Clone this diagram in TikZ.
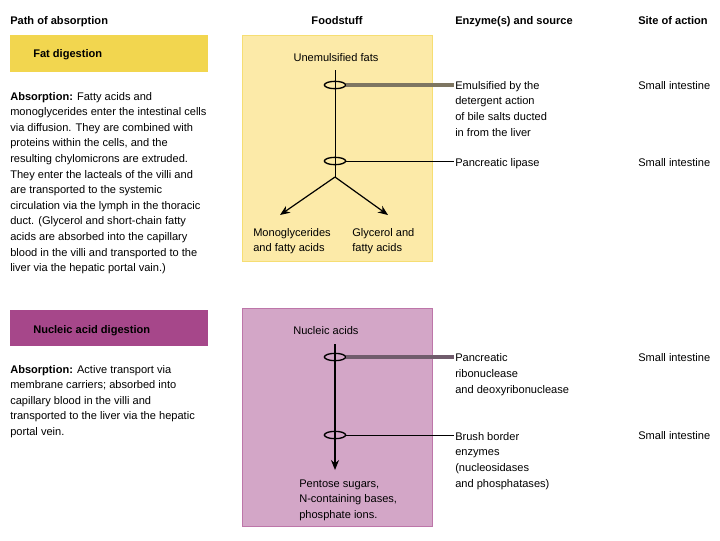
\documentclass[tikz,border=0pt]{standalone}
\usepackage{fontspec}
\setmainfont{Liberation Sans}
\usetikzlibrary{arrows.meta,shapes.geometric,positioning}

\definecolor{fatband}{HTML}{F2D64F}
\definecolor{fatbox}{HTML}{FCEAA8}
\definecolor{nucband}{HTML}{A6478A}
\definecolor{nucbox}{HTML}{D3A6C7}
\definecolor{fatlead}{HTML}{7E7662}
\definecolor{nuclead}{HTML}{705C6C}
\newcommand{\txtsize}{\fontsize{8.3}{11.7}\selectfont}

\begin{document}
\begin{tikzpicture}[x=0.75pt, y=-0.75pt,
    hdr/.style={font=\txtsize\bfseries, inner sep=0pt, anchor=base west},
    txt/.style={font=\txtsize, align=left, inner sep=0pt, anchor=base west},
    ring/.style={draw, ellipse, line width=1pt, inner sep=0pt, minimum width=16pt, minimum height=5.5pt},
    arr/.style={-{Stealth[length=7.5pt, width=6pt]}, line width=0.9pt},
    heavy/.style={line width=2.4pt},
    thinleader/.style={line width=0.7pt}
]
\useasboundingbox (0,0) rectangle (720,540);

% column heads
\node[hdr] (hpath) at (10,24) {Path of absorption};
\node[hdr, anchor=base] (hfood) at (337,24) {Foodstuff};
\node[hdr] (henz) at (455,24) {Enzyme(s) and source};
\node[hdr] (hsite) at (638,24) {Site of action};

% fat digestion (multi-line nodes sit on their last baseline)
\fill[fatband] (10,35) rectangle (208,72);
\node[hdr] (fatlbl) at (33,57) {Fat digestion};
\node[txt] (fatabs) at (10,271.6) {\textbf{Absorption:} Fatty acids and\\
monoglycerides enter the intestinal cells\\
via diffusion. They are combined with\\
proteins within the cells, and the\\
resulting chylomicrons are extruded.\\
They enter the lacteals of the villi and\\
are transported to the systemic\\
circulation via the lymph in the thoracic\\
duct. (Glycerol and short-chain fatty\\
acids are absorbed into the capillary\\
blood in the villi and transported to the\\
liver via the hepatic portal vain.)};

\filldraw[fill=fatbox, draw=fatband!60!fatbox, line width=0.5pt] (242,35) rectangle (432,261);
\node[txt, anchor=base] (fats) at (336,61) {Unemulsified fats};
\coordinate (fattop) at (335,70);
\coordinate (fatsplit) at (335,177);
\coordinate (monotip) at (280,215);
\coordinate (glytip) at (388,215);
\node[txt] (mono) at (253,251.6) {Monoglycerides\\and fatty acids};
\node[txt] (gly) at (352,251.6) {Glycerol and\\fatty acids};

\node[txt] (emul) at (455,136) {Emulsified by the\\detergent action\\of bile salts ducted\\in from the liver};
\node[txt] (plip) at (455,166) {Pancreatic lipase};
\node[txt] (site1) at (638,89) {Small intestine};
\node[txt] (site2) at (638,166) {Small intestine};

\node[ring] (bile) at (335,85) {};
\node[ring] (lip) at (335,161) {};
\draw[heavy, draw=fatlead] (bile.east) -- ([xshift=-1pt]bile.east -| emul.west);
\draw[thinleader] (lip.east) -- ([xshift=-1pt]lip.east -| plip.west);
\draw[thinleader] (fattop) -- (fatsplit);
\draw[arr] (fatsplit) -- (monotip);
\draw[arr] (fatsplit) -- (glytip);

% nucleic acid digestion
\fill[nucband] (10,310) rectangle (208,346);
\node[hdr] (nuclbl) at (33,333) {Nucleic acid digestion};
\node[txt] (nucabs) at (10,435.4) {\textbf{Absorption:} Active transport via\\
membrane carriers; absorbed into\\
capillary blood in the villi and\\
transported to the liver via the hepatic\\
portal vein.};

\filldraw[fill=nucbox, draw=nucband!50!nucbox, line width=0.5pt] (242,308) rectangle (432,526);
\node[txt] (nacids) at (293,334) {Nucleic acids};
\coordinate (nuctop) at (335,344);
\coordinate (pentip) at (335,470);
\node[txt] (pent) at (299,518.2) {Pentose sugars,\\N-containing bases,\\phosphate ions.};

\node[txt] (pribo) at (455,393) {Pancreatic\\ribonuclease\\and deoxyribonuclease};
\node[txt] (bbe) at (455,487) {Brush border\\enzymes\\(nucleosidases\\and phosphatases)};
\node[txt] (site3) at (638,361) {Small intestine};
\node[txt] (site4) at (638,439) {Small intestine};

\node[ring] (ribo) at (335,357) {};
\node[ring] (brush) at (335,435) {};
\draw[heavy, draw=nuclead] (ribo.east) -- ([xshift=-1pt]ribo.east -| pribo.west);
\draw[thinleader] (brush.east) -- ([xshift=-1pt]brush.east -| bbe.west);
\draw[arr] (nuctop) -- (pentip);
\end{tikzpicture}
\end{document}
